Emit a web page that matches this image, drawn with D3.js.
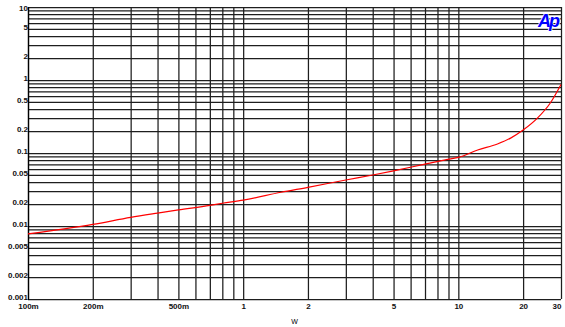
<!DOCTYPE html>
<html>
<head>
<meta charset="utf-8">
<script src="https://cdn.jsdelivr.net/npm/d3@7"></script>
<style>
  html, body { margin: 0; padding: 0; background: #fff; }
  svg { display: block; }
</style>
</head>
<body>
<svg id="chart" width="565" height="327"></svg>
<script>
// ---- data ----
const powerW = [0.1, 0.15, 0.2, 0.3, 0.4, 0.5, 0.7, 0.8, 1, 1.5, 2, 3, 4, 5, 7, 8.6, 10, 12.3, 15.2, 17.5, 20, 23.3, 26.7, 30];
const thdPct = [0.0078, 0.0092, 0.0105, 0.0131, 0.0150, 0.0166, 0.0192, 0.0205, 0.0226, 0.029, 0.0339, 0.0427, 0.050, 0.0570, 0.0705, 0.080, 0.087, 0.110, 0.133, 0.160, 0.206, 0.300, 0.480, 0.870];

const xDomain = [0.1, 30];
const yDomain = [0.001, 10];
const xGrid = [0.1,0.2,0.3,0.4,0.5,0.6,0.7,0.8,0.9,1,2,3,4,5,6,7,8,9,10,20,30];
const yGrid = [];
[0.001, 0.01, 0.1, 1].forEach(d => { for (let k = 1; k <= 9; k++) yGrid.push(+(d * k).toPrecision(3)); });
yGrid.push(10);
const xTickValues = [0.1, 0.2, 0.5, 1, 2, 5, 10, 20, 30];
const xTickLabels = ["100m", "200m", "500m", "1", "2", "5", "10", "20", "30"];
const yTickValues = [10, 5, 2, 1, 0.5, 0.2, 0.1, 0.05, 0.02, 0.01, 0.005, 0.002, 0.001];
const yTickLabels = ["10", "5", "2", "1", "0.5", "0.2", "0.1", "0.05", "0.02", "0.01", "0.005", "0.002", "0.001"];
const xTitle = "W";
const logoText = "Ap";

// ---- layout ----
const L = 28, R = 561, T = 7, B = 299;
const svg = d3.select("#chart");
const x = d3.scaleLog().domain(xDomain).range([L, R]);
const y = d3.scaleLog().domain(yDomain).range([B, T]);
const gridColor = "#1e1e1e";
const font = "'Liberation Sans', Arial, sans-serif";

// grid lines
const gY = svg.append("g").attr("transform", `translate(${L},0)`)
  .call(d3.axisLeft(y).tickValues(yGrid).tickSize(-(R - L)).tickFormat(""));
gY.select(".domain").remove();
gY.selectAll(".tick line").attr("stroke", gridColor).attr("stroke-width", 1.25);

const gX = svg.append("g").attr("transform", `translate(0,${B})`)
  .call(d3.axisBottom(x).tickValues(xGrid).tickSize(-(B - T)).tickFormat(""));
gX.select(".domain").remove();
gX.selectAll(".tick line").attr("stroke", gridColor).attr("stroke-width", 1.25);

// y tick labels
const yLab = svg.append("g").attr("transform", `translate(${L},0)`)
  .call(d3.axisLeft(y).tickValues(yTickValues).tickSize(0).tickPadding(0)
    .tickFormat((d, i) => yTickLabels[i]));
yLab.select(".domain").remove();
yLab.selectAll("text").attr("font-family", font).attr("font-size", 8).attr("font-weight", "bold").attr("fill", "#111")
  .attr("dy", (d) => d === 10 ? "0.4em" : "0.1em");

// x tick labels
const xLab = svg.append("g").attr("transform", `translate(0,${B})`)
  .call(d3.axisBottom(x).tickValues(xTickValues).tickSize(0).tickPadding(4)
    .tickFormat((d, i) => xTickLabels[i]));
xLab.select(".domain").remove();
xLab.selectAll("text").attr("font-family", font).attr("font-size", 8).attr("font-weight", "bold").attr("fill", "#111")
  .attr("text-anchor", (d) => d === 30 ? "end" : "middle");

// axis title
svg.append("text").attr("x", (L + R) / 2).attr("y", 324)
  .attr("text-anchor", "middle").attr("font-family", font).attr("font-size", 7)
  .attr("fill", "#000").text(xTitle);

// left axis
svg.append("line").attr("x1", L + 0.5).attr("x2", L + 0.5).attr("y1", T).attr("y2", B + 1)
  .attr("stroke", "#000").attr("stroke-width", 1.25);

// data line
const line = d3.line().x((d, i) => x(powerW[i])).y((d) => y(d)).curve(d3.curveMonotoneX);
svg.append("path").datum(thdPct).attr("d", line)
  .attr("fill", "none").attr("stroke", "#ff0000").attr("stroke-width", 1.2);

// logo
svg.append("text").attr("x", 558).attr("y", 27).attr("text-anchor", "end")
  .attr("font-family", font).attr("font-size", 18).attr("font-weight", "bold").attr("font-style", "italic")
  .attr("fill", "#0000ff").attr("stroke", "#fff").attr("stroke-width", 1.5).attr("paint-order", "stroke")
  .attr("letter-spacing", -2)
  .text(logoText);
</script>
</body>
</html>
